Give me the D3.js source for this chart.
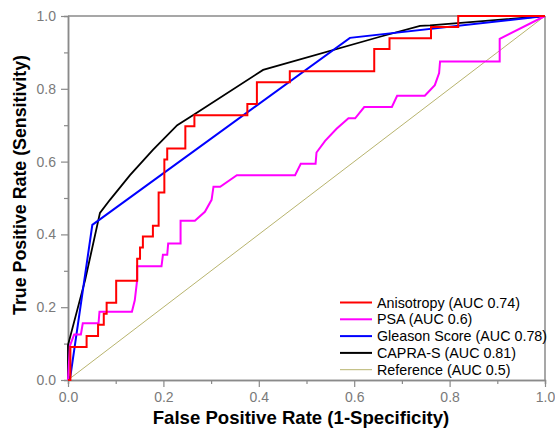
<!DOCTYPE html>
<html>
<head>
<meta charset="utf-8">
<script src="https://cdn.jsdelivr.net/npm/d3@7"></script>
<style>
  html, body { margin: 0; padding: 0; background: #fff; }
  svg { display: block; }
  text { font-family: "Liberation Sans", Arial, sans-serif; }
</style>
</head>
<body>
<svg id="chart" width="555" height="431"></svg>
<script>
// ---- data ----
const seriesNames = ["Anisotropy (AUC 0.74)", "PSA (AUC 0.6)", "Gleason Score (AUC 0.78)", "CAPRA-S (AUC 0.81)", "Reference (AUC 0.5)"];
const seriesColors = ["#ff0000", "#ff00ff", "#0000ff", "#000000", "#b8b46e"];

const anisotropyFPR = [0, 0.005, 0.005, 0.039, 0.039, 0.063, 0.063, 0.075, 0.075, 0.081, 0.081, 0.101, 0.101, 0.145, 0.145, 0.151, 0.151, 0.157, 0.157, 0.178, 0.178, 0.190, 0.190, 0.202, 0.202, 0.208, 0.208, 0.246, 0.246, 0.265, 0.265, 0.376, 0.376, 0.396, 0.396, 0.465, 0.465, 0.642, 0.642, 0.674, 0.674, 0.761, 0.761, 0.818, 0.818, 1];
const anisotropyTPR = [0, 0, 0.091, 0.091, 0.121, 0.121, 0.152, 0.152, 0.182, 0.182, 0.212, 0.212, 0.273, 0.273, 0.333, 0.333, 0.364, 0.364, 0.394, 0.394, 0.424, 0.424, 0.515, 0.515, 0.606, 0.606, 0.636, 0.636, 0.697, 0.697, 0.727, 0.727, 0.758, 0.758, 0.818, 0.818, 0.848, 0.848, 0.909, 0.909, 0.939, 0.939, 0.970, 0.970, 1, 1];

const psaFPR = [0, 0.004, 0.013, 0.027, 0.031, 0.064, 0.066, 0.134, 0.140, 0.145, 0.145, 0.196, 0.199, 0.208, 0.210, 0.236, 0.236, 0.266, 0.287, 0.301, 0.305, 0.319, 0.354, 0.476, 0.488, 0.519, 0.521, 0.539, 0.563, 0.588, 0.602, 0.621, 0.679, 0.690, 0.748, 0.769, 0.778, 0.780, 0.905, 0.905, 1];
const psaTPR = [0, 0.094, 0.125, 0.125, 0.156, 0.156, 0.1875, 0.1875, 0.219, 0.275, 0.3125, 0.3125, 0.344, 0.344, 0.375, 0.375, 0.4375, 0.4375, 0.462, 0.495, 0.531, 0.531, 0.5625, 0.5625, 0.594, 0.594, 0.625, 0.657, 0.690, 0.719, 0.719, 0.75, 0.75, 0.781, 0.781, 0.81, 0.843, 0.875, 0.875, 0.9375, 1];

const gleasonFPR = [0, 0.005, 0.051, 0.591, 1];
const gleasonTPR = [0, 0.01, 0.426, 0.94, 1];

const capraFPR = [0, 0, 0.036, 0.067, 0.088, 0.130, 0.178, 0.229, 0.266, 0.409, 0.654, 0.738, 0.759, 1];
const capraTPR = [0, 0.096, 0.275, 0.459, 0.495, 0.563, 0.632, 0.700, 0.731, 0.852, 0.943, 0.973, 0.974, 1];

const referenceFPR = [0, 1];
const referenceTPR = [0, 1];

const majorTicks = [0, 0.2, 0.4, 0.6, 0.8, 1.0];
const minorTicks = [0.1, 0.3, 0.5, 0.7, 0.9];

// ---- layout ----
const svg = d3.select("#chart");
const plotLeft = 68, plotRight = 545, plotTop = 16, plotBottom = 380;
const x = d3.scaleLinear().domain([0, 1]).range([plotLeft, plotRight]);
const y = d3.scaleLinear().domain([0, 1]).range([plotBottom, plotTop]);
const axisColor = "#8a8a8a";
const labelColor = "#7a7a7a";

const zip = (a, b) => a.map((v, i) => [v, b[i]]);
const series = [
  zip(anisotropyFPR, anisotropyTPR),
  zip(psaFPR, psaTPR),
  zip(gleasonFPR, gleasonTPR),
  zip(capraFPR, capraTPR),
  zip(referenceFPR, referenceTPR)
];
const widths = [2, 2, 2, 1.8, 1];

// frame (top & right)
svg.append("line").attr("x1", plotLeft).attr("x2", plotRight).attr("y1", plotTop).attr("y2", plotTop)
  .attr("stroke", axisColor).attr("stroke-width", 1.5);
svg.append("line").attr("x1", plotRight).attr("x2", plotRight).attr("y1", plotTop).attr("y2", plotBottom)
  .attr("stroke", axisColor).attr("stroke-width", 1.5);

// axes
function styleAxis(g) {
  g.selectAll("path.domain").attr("stroke", axisColor).attr("stroke-width", 1.5);
  g.selectAll(".tick line").attr("stroke", axisColor).attr("stroke-width", 1.2);
  g.selectAll(".tick text").attr("fill", labelColor).attr("font-size", 14)
    .attr("font-family", '"Liberation Sans", Arial, sans-serif');
}
const xMinor = svg.append("g").attr("transform", `translate(0,${plotBottom})`)
  .call(d3.axisBottom(x).tickValues(minorTicks).tickSize(4).tickFormat(""));
styleAxis(xMinor);
const xAxis = svg.append("g").attr("transform", `translate(0,${plotBottom})`)
  .call(d3.axisBottom(x).tickValues(majorTicks).tickSize(7).tickSizeOuter(0).tickPadding(5).tickFormat(d3.format(".1f")));
styleAxis(xAxis);

const yMinor = svg.append("g").attr("transform", `translate(${plotLeft},0)`)
  .call(d3.axisLeft(y).tickValues(minorTicks).tickSize(4).tickFormat(""));
styleAxis(yMinor);
const yAxis = svg.append("g").attr("transform", `translate(${plotLeft},0)`)
  .call(d3.axisLeft(y).tickValues(majorTicks).tickSize(7).tickSizeOuter(0).tickPadding(5).tickFormat(d3.format(".1f")));
styleAxis(yAxis);

// lines
const line = d3.line().x(d => x(d[0])).y(d => y(d[1]));
const order = [4, 3, 2, 1, 0];
order.forEach(i => {
  svg.append("path").datum(series[i])
    .attr("fill", "none")
    .attr("stroke", seriesColors[i])
    .attr("stroke-width", widths[i])
    .attr("stroke-linejoin", "miter")
    .attr("d", line);
});

// axis titles
svg.append("text").attr("x", 301).attr("y", 424).attr("text-anchor", "middle")
  .attr("font-size", 18.6).attr("font-weight", "bold").attr("fill", "#000")
  .text("False Positive Rate (1-Specificity)");
svg.append("text").attr("transform", "translate(26,185) rotate(-90)").attr("text-anchor", "middle")
  .attr("font-size", 17.8).attr("font-weight", "bold").attr("fill", "#000")
  .text("True Positive Rate (Sensitivity)");

// legend
const legend = svg.append("g");
seriesNames.forEach((name, i) => {
  const ly = 302.5 + i * 16.8;
  legend.append("line").attr("x1", 340).attr("x2", 372).attr("y1", ly).attr("y2", ly)
    .attr("stroke", seriesColors[i]).attr("stroke-width", i === 4 ? 1 : 2);
  legend.append("text").attr("x", 377).attr("y", ly + 5)
    .attr("font-size", 14.3).attr("fill", "#000").text(name);
});
</script>
</body>
</html>
